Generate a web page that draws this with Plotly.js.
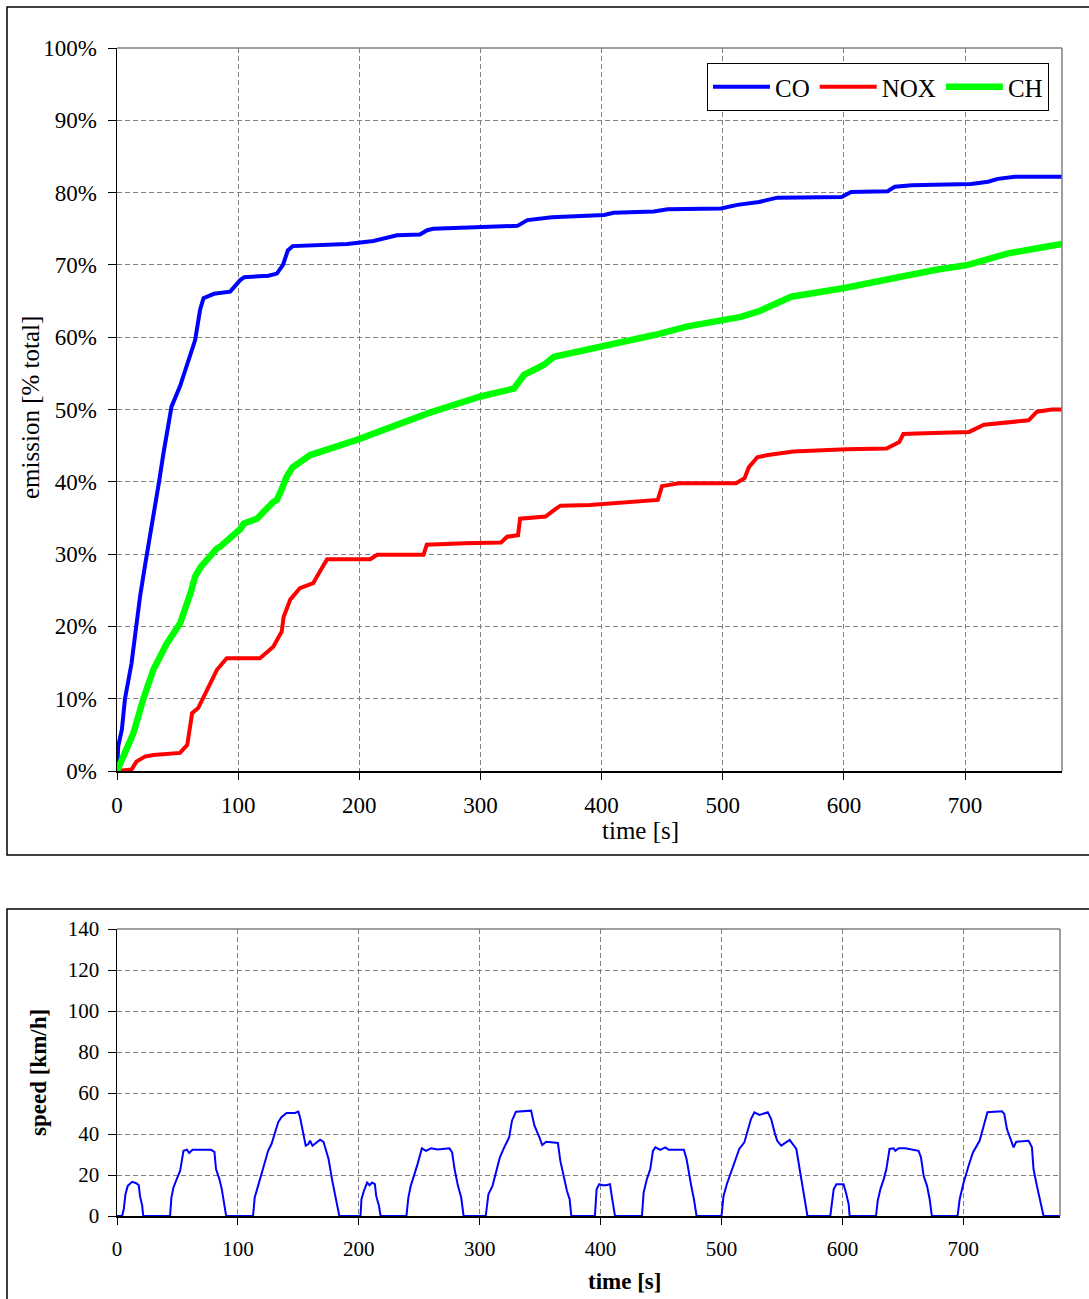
<!DOCTYPE html>
<html>
<head>
<meta charset="utf-8">
<script src="https://cdn.plot.ly/plotly-3.0.1.min.js"></script>
<style>html,body{margin:0;padding:0;background:#fff;}#chart{width:1089px;height:1299px;}</style>
</head>
<body>
<div id="chart"></div>
<script>
// ---- Emission chart (cumulative % of total) ----
const coT = [0,1,4,6.6,12,15,19,23,27.3,31.4,34.7,38.3,45,52,59,64.5,68.6,71.4,80,90.7,93.4,101.7,105,125,132,137,141,145,190,211.7,231,250,256,261,298.5,330.5,338.8,359,402,410,443,454.5,498.5,512,530,545,598,606,636,642,656,705,719,727,741,780];
const coV = [0,3.4,5.7,10,14.9,19,24.1,28.3,32.4,36.6,40,43.9,50.4,53.2,56.8,59.6,63.8,65.4,66,66.2,66.3,67.9,68.3,68.5,68.8,70,72,72.6,72.9,73.3,74.1,74.2,74.8,75,75.2,75.4,76.2,76.6,76.9,77.2,77.4,77.7,77.8,78.3,78.7,79.3,79.4,80.1,80.2,80.8,81,81.2,81.5,81.9,82.2,82.2];

const noxT = [0,12,16,23,30,52,58,60,62,67,74,82.5,90.6,118,129,136,137.5,143,151,162,166.5,173.4,209,214.7,253,255.7,287,317,322,331,332.7,353.7,362.4,366,390.4,411.4,446.4,449.8,463.8,511,518,521.5,528.5,537.3,558.3,602,635.2,645.7,649,666.6,703.4,715.6,736.7,752.4,759.4,771.6,780];
const noxV = [0,0.2,1.3,2,2.2,2.5,3.6,5.7,8,8.7,11.2,14,15.6,15.6,17.2,19.3,21.3,23.7,25.3,26,27.3,29.3,29.3,29.9,29.9,31.3,31.5,31.6,32.4,32.6,34.9,35.2,36.3,36.7,36.8,37.1,37.5,39.4,39.8,39.8,40.5,42,43.4,43.7,44.2,44.5,44.6,45.5,46.6,46.7,46.9,47.9,48.2,48.5,49.7,50,50];

const chT = [0,13.5,21.8,30,41,52,60.5,64.5,69,74,82.5,85,102,104.5,115.5,129,132,136,140,145,159.5,198,228.5,257,300,327.7,336,352.5,360.7,400.7,443.4,471,501,515,530,548,556.5,600.5,639,675,702.5,735.6,763,780];
const chV = [0,5.2,10,14,17.6,20.4,24.5,26.9,28.2,29.2,30.8,31,33.5,34.2,34.9,37.2,37.5,39,40.7,42,43.7,45.8,47.6,49.5,51.8,52.9,54.8,56.2,57.3,58.7,60.3,61.5,62.4,62.8,63.6,64.9,65.6,66.8,68.1,69.3,70,71.6,72.4,72.9];

// ---- Speed chart (km/h) ----
const spT = [0,4.2,5.6,7,8.9,12.5,16,18,19,20.8,21.7,43.9,45,46.7,49.4,52.2,55,57.8,59.7,62.5,77.8,80.6,81.9,84.7,86.7,88.9,90.3,
  112.5,113.9,116.7,119.4,122.2,125,127.8,130.6,133.3,136,140.3,147.2,150,151.4,152.8,154.2,156.1,158.3,159.7,161.7,165.3,168,170.8,172.8,175,177.8,180.6,182.8,183.9,
  201.4,202.2,204.2,206.9,209,211,213.3,214.4,216.7,218,239.4,241,243,245.8,248.6,252.2,255.6,259.7,265.3,275,277.2,279.2,282,284.7,286.7,
  305,307.2,310.6,313.3,316.7,320.3,324.4,326.7,330,342.5,345.3,349.4,351.7,355,364.7,366.7,369.4,372.2,374.4,375.8,
  395.3,396.7,398.9,401.7,404.4,407.8,409.2,410.6,411.9,434.2,435.6,438.3,441.1,443.3,445.3,449.4,453.6,456.4,468.9,471.1,473,475,477.2,479.4,
  500,501.7,504.4,507.8,511.1,514.7,518.9,521.7,524.4,527.2,531.4,538.3,541.1,543.9,546.1,549.4,556.4,561.9,565.6,568.3,571.1,
  590,591.5,592.8,595,601,603.3,605.2,606,627.8,629.2,631.4,634.2,636.4,639,642.4,643.8,646.6,652,663,665,667.2,670,672.2,674,
  695.3,697,700.3,704.4,708,713.5,716.8,720,732,733.9,736.1,738.8,741.6,743.8,754,756.8,758.1,760.9,763.6,766.4,780];
const spV = [0,0,3.3,10.6,14.7,16.7,16,15,9.8,5.2,0,0,9,13.9,18,22,31.8,32.3,30.7,32.3,32.3,31.3,22.9,18,13,4.9,0,
  0,9,14.7,20.4,26.1,31.8,35.1,40,45.7,48.2,50.3,50.3,50.9,48.2,44.1,40,34.3,35.1,36.7,34.3,35.9,37.2,36.2,32.7,27.8,18,9,3.3,0,
  0,8.2,12.2,16.3,15,16.3,15.5,9.8,4.9,0,0,9,14.7,19.6,25.3,33,31.8,33,32.4,33,31,22.9,14.7,9,0,
  0,10.6,14.7,20.4,28.6,33.5,38.4,46.5,50.9,51.4,44.1,38.4,34.6,36.2,35.6,26.9,19.6,12.2,8.2,0,
  0,13,15.5,15,15,15.5,9.8,4.9,0,0,11.4,18,22.9,31.8,33.5,32.3,33.5,32.3,32.3,27.8,20.4,14.7,8.2,0,
  0,9.8,15.5,21.2,26.9,32.7,35.9,42.4,47.3,50.6,49.3,50.6,47.3,40.8,36.7,34.3,37.1,32.7,19.6,11.4,0,
  0,8.2,13,15.5,15.5,10.6,5.7,0,0,7.3,13,18,22.9,32.7,33,31.8,33.1,33.1,31.8,28.6,19.6,14.7,8.2,0,
  0,8.2,16.3,24.5,31,36.7,44.1,50.6,51.1,49.8,42.4,38.4,33.5,36.2,36.7,33.5,22.9,14.7,8.2,0,0];

const xTicks = [0,100,200,300,400,500,600,700];

const W = 1089, H = 1299;
const px = v => v / W;
const py = v => 1 - v / H;
const FONT = 'Liberation Serif, Times New Roman, serif';

const traces = [
  {x: coT, y: coV, name: 'CO', type: 'scatter', mode: 'lines', line: {color: '#0000FF', width: 4}, xaxis: 'x', yaxis: 'y'},
  {x: noxT, y: noxV, name: 'NOX', type: 'scatter', mode: 'lines', line: {color: '#FF0000', width: 4}, xaxis: 'x', yaxis: 'y'},
  {x: chT, y: chV, name: 'CH', type: 'scatter', mode: 'lines', line: {color: '#00FF00', width: 6.5}, xaxis: 'x', yaxis: 'y'},
  {x: spT, y: spV, name: 'speed', type: 'scatter', mode: 'lines', line: {color: '#0000FF', width: 2}, xaxis: 'x2', yaxis: 'y2', showlegend: false}
];

const gridStyle = {showgrid: true, gridcolor: '#808080', gridwidth: 1, griddash: '5px,3px', zeroline: false,
  showline: true, linecolor: '#000', linewidth: 1.5, ticks: 'outside', tickcolor: '#000', tickwidth: 1, layer: 'below traces'};

const layout = {
  width: W, height: H,
  margin: {l: 0, r: 0, t: 0, b: 0},
  paper_bgcolor: '#fff', plot_bgcolor: '#fff',
  font: {family: FONT, color: '#000'},
  showlegend: true,
  legend: {orientation: 'h', x: px(707), y: py(63), xanchor: 'left', yanchor: 'top',
    bordercolor: '#000', borderwidth: 1, bgcolor: '#fff', font: {family: FONT, size: 25, color: '#000'},
    itemwidth: 57, tracegroupgap: 0},
  xaxis: Object.assign({}, gridStyle, {domain: [px(117), px(1062)], range: [0, 780], anchor: 'y',
    tickvals: xTicks, ticklen: 7, tickfont: {family: FONT, size: 23, color: '#000'}, ticklabelstandoff: 6}),
  yaxis: Object.assign({}, gridStyle, {domain: [py(771), py(48)], range: [0, 100], anchor: 'x',
    dtick: 10, tick0: 0, ticksuffix: '%', ticklen: 8, tickfont: {family: FONT, size: 23, color: '#000'}, ticklabelstandoff: 6}),
  xaxis2: Object.assign({}, gridStyle, {domain: [px(117), px(1060)], range: [0, 780], anchor: 'y2',
    tickvals: xTicks, ticklen: 7, tickfont: {family: FONT, size: 21, color: '#000'}, ticklabelstandoff: 6}),
  yaxis2: Object.assign({}, gridStyle, {domain: [py(1216), py(929)], range: [0, 140], anchor: 'x2',
    dtick: 20, tick0: 0, ticklen: 8, tickfont: {family: FONT, size: 21, color: '#000'}, ticklabelstandoff: 4}),
  shapes: [
    {type: 'rect', xref: 'paper', yref: 'paper', x0: px(7), x1: px(1100), y0: py(855), y1: py(7), line: {color: '#000', width: 1.5}, layer: 'below'},
    {type: 'rect', xref: 'paper', yref: 'paper', x0: px(7), x1: px(1100), y0: py(1310), y1: py(909), line: {color: '#000', width: 1.5}, layer: 'below'},
    {type: 'line', xref: 'paper', yref: 'paper', x0: px(117), x1: px(1062), y0: py(48), y1: py(48), line: {color: '#808080', width: 1.5}},
    {type: 'line', xref: 'paper', yref: 'paper', x0: px(1062), x1: px(1062), y0: py(48), y1: py(771), line: {color: '#808080', width: 1.5}},
    {type: 'line', xref: 'paper', yref: 'paper', x0: px(117), x1: px(1060), y0: py(929), y1: py(929), line: {color: '#808080', width: 1.5}},
    {type: 'line', xref: 'paper', yref: 'paper', x0: px(1060), x1: px(1060), y0: py(929), y1: py(1216), line: {color: '#808080', width: 1.5}}
  ],
  annotations: [
    {text: 'emission [% total]', xref: 'paper', yref: 'paper', x: px(30), y: py(408), textangle: -90,
      showarrow: false, xanchor: 'center', yanchor: 'middle', font: {family: FONT, size: 25, color: '#000'}},
    {text: 'time [s]', xref: 'paper', yref: 'paper', x: px(640), y: py(830),
      showarrow: false, xanchor: 'center', yanchor: 'middle', font: {family: FONT, size: 25, color: '#000'}},
    {text: '<b>speed [km/h]</b>', xref: 'paper', yref: 'paper', x: px(38), y: py(1073), textangle: -90,
      showarrow: false, xanchor: 'center', yanchor: 'middle', font: {family: FONT, size: 23, color: '#000'}},
    {text: '<b>time [s]</b>', xref: 'paper', yref: 'paper', x: px(624), y: py(1281),
      showarrow: false, xanchor: 'center', yanchor: 'middle', font: {family: FONT, size: 23, color: '#000'}}
  ]
};

Plotly.newPlot('chart', traces, layout, {staticPlot: true, displayModeBar: false});
</script>
</body>
</html>
